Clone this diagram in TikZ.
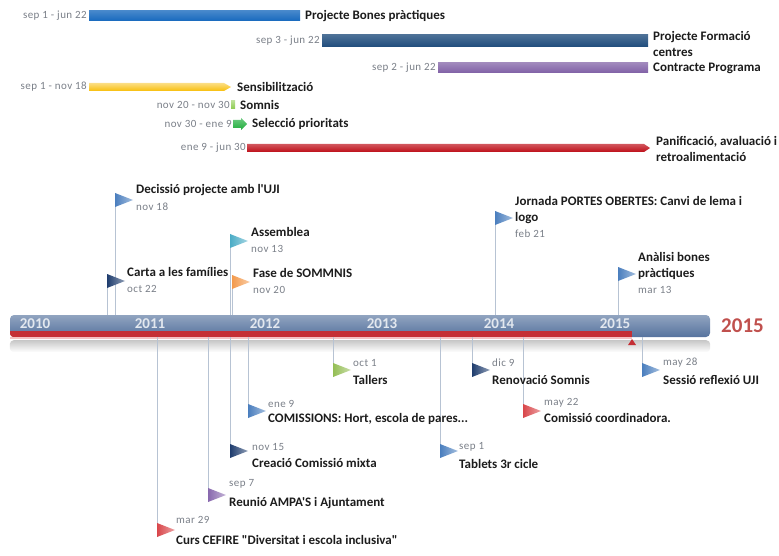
\documentclass[tikz,border=0pt]{standalone}
\usepackage{fontspec}
\newfontfamily\carlito{Carlito}
\newfontfamily\datefont{Carlito}[LetterSpace=4]
\usepackage{xcolor}
\usetikzlibrary{positioning, calc}

\definecolor{barBlue}{HTML}{1769BE}
\definecolor{barNavy}{HTML}{1F4C7C}
\definecolor{barPurple}{HTML}{8060A6}
\definecolor{barYellow}{HTML}{F8BE0A}
\definecolor{barLime}{HTML}{8CCB4E}
\definecolor{barGreen}{HTML}{1FAE3C}
\definecolor{barRed}{HTML}{BE0E18}
\definecolor{flagBlue}{HTML}{4A7EBE}
\definecolor{flagNavy}{HTML}{1F3D6E}
\definecolor{flagCyan}{HTML}{4BACC6}
\definecolor{flagOrange}{HTML}{F39A4C}
\definecolor{flagRed}{HTML}{D9464A}
\definecolor{flagPurple}{HTML}{8868AE}
\definecolor{flagGreen}{HTML}{94BE55}
\definecolor{axisBlue}{HTML}{56739E}
\definecolor{axisRed}{HTML}{C42F35}
\definecolor{axisPink}{HTML}{F4C2C2}
\definecolor{poleGray}{HTML}{B7C3D3}
\definecolor{titleInk}{HTML}{1C1C1C}
\definecolor{dateInk}{HTML}{7A7F88}
\definecolor{yearInk}{HTML}{E3E8EF}
\definecolor{endRed}{HTML}{C0504D}

\begin{document}
\begin{tikzpicture}[x=1pt, y=-1pt, every node/.style={inner sep=0pt, font=\carlito}]
    \tikzstyle{title}=[anchor=west, align=left, text=titleInk, font=\carlito\fontsize{13}{16.5}\selectfont\bfseries]
    \tikzstyle{date}=[text=dateInk, font=\datefont\fontsize{11}{12}\selectfont]
    \tikzstyle{flagdate}=[date, anchor=west]
    \tikzstyle{pole}=[draw=poleGray, line width=0.9pt]
    \tikzstyle{year}=[text=yearInk, font=\carlito\fontsize{15}{17}\selectfont\bfseries]
    \tikzstyle{axis}=[rectangle, rounded corners=4pt, minimum width=700pt, minimum height=22pt, top color=axisBlue!65!white, bottom color=axisBlue]
    \tikzset{flag/.pic={\shade[left color=#1, right color=#1!50!white] (0,-7) -- (18,0) -- (0,7) -- cycle;}}

    \useasboundingbox (0,0) rectangle (779,556);

    \coordinate (bonesS) at (89,16);
    \coordinate (bonesE) at (300,16);
    \coordinate (formS) at (322,41);
    \coordinate (formE) at (648,41);
    \coordinate (contS) at (438,68);
    \coordinate (contE) at (648,68);
    \coordinate (sensS) at (89,87);
    \coordinate (sensE) at (231,87);
    \coordinate (somS) at (231,105);
    \coordinate (somE) at (235,105);
    \coordinate (selS) at (233,124);
    \coordinate (selE) at (247,124);
    \coordinate (planS) at (247,148);
    \coordinate (planE) at (650,148);

    \shade[top color=barBlue!80!white, bottom color=barBlue] ($(bonesS)+(0,-5)$) rectangle ($(bonesE)+(0,5)$);
    \shade[top color=barNavy!80!white, bottom color=barNavy] ($(formS)+(0,-6)$) rectangle ($(formE)+(0,6)$);
    \shade[top color=barPurple!75!white, bottom color=barPurple] ($(contS)+(0,-5)$) rectangle ($(contE)+(0,5)$);
    \shade[top color=barYellow!50!white, bottom color=barYellow] ($(sensS)+(0,-4)$) -- ($(sensE)+(-7,-4)$) -- (sensE) -- ($(sensE)+(-7,4)$) -- ($(sensS)+(0,4)$) -- cycle;
    \shade[top color=barLime!60!white, bottom color=barLime] ($(somS)+(0,-4)$) rectangle ($(somE)+(0,4)$);
    \shade[top color=barGreen!65!white, bottom color=barGreen] ($(selS)+(0,-4)$) -- ($(selE)+(-6,-4)$) -- ($(selE)+(-6,-6)$) -- (selE) -- ($(selE)+(-6,6)$) -- ($(selE)+(-6,4)$) -- ($(selS)+(0,4)$) -- cycle;
    \shade[top color=barRed!70!white, bottom color=barRed] ($(planS)+(0,-4)$) -- ($(planE)+(-6,-4)$) -- (planE) -- ($(planE)+(-6,4)$) -- ($(planS)+(0,4)$) -- cycle;

    \node[date, left=2pt of bonesS] (bonesDate) {sep 1 - jun 22};
    \node[date, left=2pt of formS] (formDate) {sep 3 - jun 22};
    \node[date, left=2pt of contS] (contDate) {sep 2 - jun 22};
    \node[date, left=2pt of sensS] (sensDate) {sep 1 - nov 18};
    \node[date, left=1pt of somS] (somDate) {nov 20 - nov 30};
    \node[date, left=1pt of selS] (selDate) {nov 30 - ene 9};
    \node[date, left=1pt of planS] (planDate) {ene 9 - jun 30};

    \node[title] (bonesTitle) at ($(bonesE)+(5,0)$) {Projecte Bones pràctiques};
    \node[title] (formTitle) at ($(formE)+(5,3)$) {Projecte Formació\\centres};
    \node[title] (contTitle) at ($(contE)+(5,0)$) {Contracte Programa};
    \node[title] (sensTitle) at ($(sensE)+(6,0)$) {Sensibilització};
    \node[title] (somTitle) at ($(somE)+(5,0)$) {Somnis};
    \node[title] (selTitle) at ($(selE)+(5,0)$) {Selecció prioritats};
    \node[title] (planTitle) at ($(planE)+(6,1)$) {Panificació, avaluació i\\retroalimentació};

    \node[axis] (axis) at (360,326) {};
    \coordinate (today) at (632,337);
    \begin{scope}
        \clip[rounded corners=4pt] (axis.south west) rectangle (axis.north east);
        \fill[axisRed] ($(axis.south west)+(0,-6)$) rectangle (today);
    \end{scope}
    \fill[axisPink] (axis.south west) rectangle ($(today)+(0,2)$);
    \shade[rounded corners=4pt, top color=black!22, bottom color=white] ($(axis.south west)+(0,3)$) rectangle ($(axis.south east)+(0,15)$);
    \fill[axisRed] ($(today)+(0,2)$) -- ($(today)+(-4,8)$) -- ($(today)+(4,8)$) -- cycle;

    \node[year] (y2010) at (35,324) {2010};
    \node[year] (y2011) at (150,324) {2011};
    \node[year] (y2012) at (265,324) {2012};
    \node[year] (y2013) at (382,324) {2013};
    \node[year] (y2014) at (499,324) {2014};
    \node[year] (y2015) at (615,324) {2015};
    \node[text=endRed, font=\carlito\fontsize{21}{23}\selectfont\bfseries, anchor=west] (endYear) at (721,326) {2015};

    \coordinate (decF) at (115,193);
    \coordinate (cartaF) at (107,274);
    \coordinate (assemF) at (230,234);
    \coordinate (faseF) at (232,275);
    \coordinate (jornF) at (495,211);
    \coordinate (analF) at (618,267);

    \draw[pole] (decF) -- (decF |- axis.north);
    \draw[pole] (cartaF) -- (cartaF |- axis.north);
    \draw[pole] (assemF) -- (assemF |- axis.north);
    \draw[pole] (faseF) -- (faseF |- axis.north);
    \draw[pole] (jornF) -- (jornF |- axis.north);
    \draw[pole] (analF) -- (analF |- axis.north);

    \pic at ($(decF)+(0,7)$) {flag=flagBlue};
    \pic at ($(cartaF)+(0,7)$) {flag=flagNavy};
    \pic at ($(assemF)+(0,7)$) {flag=flagCyan};
    \pic at ($(faseF)+(0,7)$) {flag=flagOrange};
    \pic at ($(jornF)+(0,7)$) {flag=flagBlue};
    \pic at ($(analF)+(0,7)$) {flag=flagBlue};

    \node[title] (decTitle) at (136,190) {Decissió projecte amb l'UJI};
    \node[flagdate] (decDate) at (136,207) {nov 18};
    \node[title] (cartaTitle) at (127,272) {Carta a les famílies};
    \node[flagdate] (cartaDate) at (127,289) {oct 22};
    \node[title] (assemTitle) at (251,232) {Assemblea};
    \node[flagdate] (assemDate) at (251,249) {nov 13};
    \node[title] (faseTitle) at (253,273) {Fase de SOMMNIS};
    \node[flagdate] (faseDate) at (253,290) {nov 20};
    \node[title] (jornTitle) at (515,210) {Jornada PORTES OBERTES: Canvi de lema i\\logo};
    \node[flagdate] (jornDate) at (515,234) {feb 21};
    \node[title] (analTitle) at (638,266) {Anàlisi bones\\pràctiques};
    \node[flagdate] (analDate) at (638,290) {mar 13};

    \coordinate (cursF) at (157,537);
    \coordinate (reunF) at (208,502);
    \coordinate (creaF) at (230,458);
    \coordinate (comisF) at (248,418);
    \coordinate (tallF) at (333,377);
    \coordinate (tabF) at (440,458);
    \coordinate (renF) at (472,377);
    \coordinate (coordF) at (523,418);
    \coordinate (sessF) at (642,377);

    \draw[pole] (axis.south -| cursF) -- (cursF);
    \draw[pole] (axis.south -| reunF) -- (reunF);
    \draw[pole] (axis.south -| creaF) -- (creaF);
    \draw[pole] (axis.south -| comisF) -- (comisF);
    \draw[pole] (axis.south -| tallF) -- (tallF);
    \draw[pole] (axis.south -| tabF) -- (tabF);
    \draw[pole] (axis.south -| renF) -- (renF);
    \draw[pole] (axis.south -| coordF) -- (coordF);
    \draw[pole] (axis.south -| sessF) -- (sessF);

    \pic at ($(cursF)+(0,-7)$) {flag=flagRed};
    \pic at ($(reunF)+(0,-7)$) {flag=flagPurple};
    \pic at ($(creaF)+(0,-7)$) {flag=flagNavy};
    \pic at ($(comisF)+(0,-7)$) {flag=flagBlue};
    \pic at ($(tallF)+(0,-7)$) {flag=flagGreen};
    \pic at ($(tabF)+(0,-7)$) {flag=flagBlue};
    \pic at ($(renF)+(0,-7)$) {flag=flagNavy};
    \pic at ($(coordF)+(0,-7)$) {flag=flagRed};
    \pic at ($(sessF)+(0,-7)$) {flag=flagBlue};

    \node[flagdate] (cursDate) at (176,520) {mar 29};
    \node[title] (cursTitle) at (176,540) {Curs CEFIRE "Diversitat i escola inclusiva"};
    \node[flagdate] (reunDate) at (229,484) {sep 7};
    \node[title] (reunTitle) at (229,503) {Reunió AMPA'S i Ajuntament};
    \node[flagdate] (creaDate) at (252,447) {nov 15};
    \node[title] (creaTitle) at (252,463) {Creació Comissió mixta};
    \node[flagdate] (comisDate) at (268,404) {ene 9};
    \node[title] (comisTitle) at (268,419) {COMISSIONS: Hort, escola de pares...};
    \node[flagdate] (tallDate) at (353,363) {oct 1};
    \node[title] (tallTitle) at (353,380) {Tallers};
    \node[flagdate] (tabDate) at (459,447) {sep 1};
    \node[title] (tabTitle) at (459,464) {Tablets 3r cicle};
    \node[flagdate] (renDate) at (492,363) {dic 9};
    \node[title] (renTitle) at (492,380) {Renovació Somnis};
    \node[flagdate] (coordDate) at (544,403) {may 22};
    \node[title] (coordTitle) at (544,418) {Comissió coordinadora.};
    \node[flagdate] (sessDate) at (663,363) {may 28};
    \node[title] (sessTitle) at (663,380) {Sessió reflexió UJI};
\end{tikzpicture}
\end{document}
